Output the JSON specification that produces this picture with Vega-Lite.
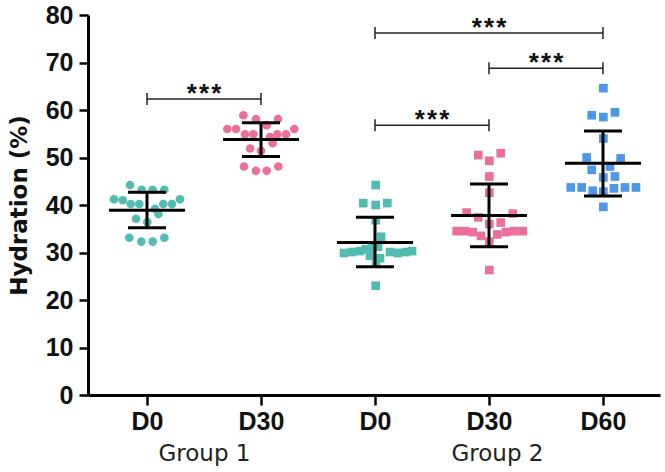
{
  "$schema": "https://vega.github.io/schema/vega-lite/v6.json",
  "width": 572,
  "height": 380,
  "autosize": "none",
  "padding": {"left": 88, "top": 15, "right": 5, "bottom": 77},
  "background": "white",
  "config": {"view": {"stroke": null}, "axis": {"grid": false}},
  "datasets": {
    "points": [
      {"series": "G1D0", "pos": 0.851, "value": 44.2},
      {"series": "G1D0", "pos": 0.953, "value": 43.2},
      {"series": "G1D0", "pos": 1.05, "value": 43.2},
      {"series": "G1D0", "pos": 1.152, "value": 43.2},
      {"series": "G1D0", "pos": 0.711, "value": 41.2},
      {"series": "G1D0", "pos": 0.787, "value": 41.0},
      {"series": "G1D0", "pos": 1.289, "value": 41.2},
      {"series": "G1D0", "pos": 0.857, "value": 40.2},
      {"series": "G1D0", "pos": 0.932, "value": 40.2},
      {"series": "G1D0", "pos": 1.143, "value": 40.2},
      {"series": "G1D0", "pos": 1.219, "value": 40.2},
      {"series": "G1D0", "pos": 1.07, "value": 39.2},
      {"series": "G1D0", "pos": 1.10, "value": 38.1},
      {"series": "G1D0", "pos": 0.904, "value": 37.1},
      {"series": "G1D0", "pos": 1.003, "value": 36.4},
      {"series": "G1D0", "pos": 0.845, "value": 33.1},
      {"series": "G1D0", "pos": 0.95, "value": 32.3},
      {"series": "G1D0", "pos": 1.05, "value": 32.3},
      {"series": "G1D0", "pos": 1.152, "value": 33.1},
      {"series": "G1D30", "pos": 1.845, "value": 58.9},
      {"series": "G1D30", "pos": 1.956, "value": 58.1},
      {"series": "G1D30", "pos": 2.149, "value": 58.1},
      {"series": "G1D30", "pos": 2.05, "value": 56.8},
      {"series": "G1D30", "pos": 1.704, "value": 56.0},
      {"series": "G1D30", "pos": 1.781, "value": 56.0},
      {"series": "G1D30", "pos": 2.292, "value": 56.0},
      {"series": "G1D30", "pos": 1.86, "value": 54.9},
      {"series": "G1D30", "pos": 1.933, "value": 54.9},
      {"series": "G1D30", "pos": 2.143, "value": 54.9},
      {"series": "G1D30", "pos": 2.219, "value": 54.9},
      {"series": "G1D30", "pos": 2.079, "value": 54.3},
      {"series": "G1D30", "pos": 2.102, "value": 53.0},
      {"series": "G1D30", "pos": 1.904, "value": 51.9},
      {"series": "G1D30", "pos": 2.0, "value": 51.4},
      {"series": "G1D30", "pos": 1.851, "value": 48.1},
      {"series": "G1D30", "pos": 1.956, "value": 47.2},
      {"series": "G1D30", "pos": 2.05, "value": 47.2},
      {"series": "G1D30", "pos": 2.152, "value": 48.1},
      {"series": "G2D0", "pos": 3.006, "value": 44.2},
      {"series": "G2D0", "pos": 2.897, "value": 40.4},
      {"series": "G2D0", "pos": 3.006, "value": 40.0},
      {"series": "G2D0", "pos": 3.108, "value": 40.4},
      {"series": "G2D0", "pos": 3.006, "value": 36.8},
      {"series": "G2D0", "pos": 3.053, "value": 33.3},
      {"series": "G2D0", "pos": 2.728, "value": 29.9},
      {"series": "G2D0", "pos": 2.798, "value": 30.1},
      {"series": "G2D0", "pos": 2.868, "value": 30.3},
      {"series": "G2D0", "pos": 2.921, "value": 30.7},
      {"series": "G2D0", "pos": 2.974, "value": 30.9},
      {"series": "G2D0", "pos": 3.026, "value": 31.2},
      {"series": "G2D0", "pos": 2.956, "value": 29.3},
      {"series": "G2D0", "pos": 3.044, "value": 28.8},
      {"series": "G2D0", "pos": 3.132, "value": 30.1},
      {"series": "G2D0", "pos": 3.202, "value": 29.9},
      {"series": "G2D0", "pos": 3.272, "value": 30.1},
      {"series": "G2D0", "pos": 3.325, "value": 30.3},
      {"series": "G2D0", "pos": 3.009, "value": 28.0},
      {"series": "G2D0", "pos": 3.006, "value": 23.0},
      {"series": "G2D30", "pos": 3.906, "value": 50.5},
      {"series": "G2D30", "pos": 4.003, "value": 49.3},
      {"series": "G2D30", "pos": 4.103, "value": 50.9},
      {"series": "G2D30", "pos": 4.003, "value": 46.0},
      {"series": "G2D30", "pos": 4.003, "value": 42.6},
      {"series": "G2D30", "pos": 3.804, "value": 38.4},
      {"series": "G2D30", "pos": 3.906, "value": 37.4},
      {"series": "G2D30", "pos": 4.208, "value": 38.2},
      {"series": "G2D30", "pos": 4.003, "value": 36.0},
      {"series": "G2D30", "pos": 4.103, "value": 36.3},
      {"series": "G2D30", "pos": 3.717, "value": 34.5},
      {"series": "G2D30", "pos": 3.789, "value": 34.5},
      {"series": "G2D30", "pos": 3.857, "value": 34.3},
      {"series": "G2D30", "pos": 3.93, "value": 33.5},
      {"series": "G2D30", "pos": 4.003, "value": 32.3},
      {"series": "G2D30", "pos": 4.073, "value": 33.8},
      {"series": "G2D30", "pos": 4.149, "value": 34.3},
      {"series": "G2D30", "pos": 4.222, "value": 34.5},
      {"series": "G2D30", "pos": 4.296, "value": 34.5},
      {"series": "G2D30", "pos": 4.003, "value": 26.3},
      {"series": "G2D60", "pos": 5.003, "value": 64.6},
      {"series": "G2D60", "pos": 4.901, "value": 58.9},
      {"series": "G2D60", "pos": 5.003, "value": 58.5},
      {"series": "G2D60", "pos": 5.105, "value": 59.5},
      {"series": "G2D60", "pos": 5.003, "value": 54.0},
      {"series": "G2D60", "pos": 4.857, "value": 50.0},
      {"series": "G2D60", "pos": 5.155, "value": 49.8},
      {"series": "G2D60", "pos": 4.901, "value": 47.4},
      {"series": "G2D60", "pos": 5.061, "value": 48.1},
      {"series": "G2D60", "pos": 5.003, "value": 45.8},
      {"series": "G2D60", "pos": 5.105, "value": 46.0},
      {"series": "G2D60", "pos": 4.717, "value": 43.7},
      {"series": "G2D60", "pos": 4.813, "value": 43.7},
      {"series": "G2D60", "pos": 4.91, "value": 43.0},
      {"series": "G2D60", "pos": 5.003, "value": 42.8},
      {"series": "G2D60", "pos": 5.096, "value": 43.5},
      {"series": "G2D60", "pos": 5.193, "value": 43.7},
      {"series": "G2D60", "pos": 5.289, "value": 43.7},
      {"series": "G2D60", "pos": 5.003, "value": 39.6}
    ],
    "summary": [
      {"series": "G1D0", "pos": 1, "mean": 38.9, "lo": 35.2, "hi": 42.7},
      {"series": "G1D30", "pos": 2, "mean": 53.8, "lo": 50.2, "hi": 57.3},
      {"series": "G2D0", "pos": 3, "mean": 32.1, "lo": 27.0, "hi": 37.4},
      {"series": "G2D30", "pos": 4, "mean": 37.8, "lo": 31.2, "hi": 44.4},
      {"series": "G2D60", "pos": 5, "mean": 48.8, "lo": 41.9, "hi": 55.6}
    ],
    "brackets": [
      {"x1": 1, "x2": 2, "y": 62.3, "label": "*\u200a*\u200a*"},
      {"x1": 3, "x2": 5, "y": 76.2, "label": "*\u200a*\u200a*"},
      {"x1": 4, "x2": 5, "y": 68.8, "label": "*\u200a*\u200a*"},
      {"x1": 3, "x2": 4, "y": 56.8, "label": "*\u200a*\u200a*"}
    ]
  },
  "layer": [
    {
      "layer": [
        {
          "data": {"name": "points"},
          "mark": {"type": "point", "filled": true, "opacity": 1, "size": 75},
          "encoding": {
            "x": {
              "field": "pos", "type": "quantitative",
              "scale": {"domain": [0.4825, 5.5], "nice": false, "zero": false},
              "axis": {
                "title": null, "values": [1, 2, 3, 4, 5],
                "labelExpr": "datum.value == 1 || datum.value == 3 ? 'D0' : (datum.value == 2 || datum.value == 4 ? 'D30' : 'D60')",
                "domainColor": "#000", "domainWidth": 3, "tickColor": "#000", "tickWidth": 2.5, "tickSize": 10,
                "labelFont": "Liberation Sans", "labelFontWeight": "bold", "labelFontSize": 25, "labelColor": "#111",
                "labelPadding": 4, "labelFlush": false, "labelOverlap": false
              }
            },
            "y": {
              "field": "value", "type": "quantitative",
              "scale": {"domain": [0, 80], "nice": false, "zero": true},
              "axis": {
                "title": "Hydration (%)", "values": [0, 10, 20, 30, 40, 50, 60, 70, 80],
                "domainColor": "#000", "domainWidth": 3, "tickColor": "#000", "tickWidth": 2.5, "tickSize": 9,
                "labelFont": "Liberation Sans", "labelFontWeight": "bold", "labelFontSize": 25, "labelColor": "#111",
                "labelPadding": 6, "labelFlush": false, "labelOverlap": false,
                "titleFont": "DejaVu Sans", "titleFontWeight": "bold", "titleFontSize": 23, "titleColor": "#111",
                "titlePadding": 14
              }
            },
            "color": {
              "field": "series", "type": "nominal", "legend": null,
              "scale": {"domain": ["G1D0", "G1D30", "G2D0", "G2D30", "G2D60"], "range": ["#52bcb0", "#ea6f9a", "#52bcb0", "#ea6f9a", "#4d97e6"]}
            },
            "shape": {
              "field": "series", "type": "nominal", "legend": null,
              "scale": {"domain": ["G1D0", "G1D30", "G2D0", "G2D30", "G2D60"], "range": ["circle", "circle", "square", "square", "square"]}
            }
          }
        },
        {
          "mark": {"type": "rule", "strokeDash": [8, 5], "strokeWidth": 3, "color": "#3d1a1a"},
          "encoding": {"x": {"datum": 2.5, "type": "quantitative"}}
        },
        {
          "data": {"name": "summary"},
          "mark": {"type": "rule", "strokeWidth": 3, "color": "#000"},
          "encoding": {
            "x": {"field": "pos", "type": "quantitative"},
            "y": {"field": "lo", "type": "quantitative"},
            "y2": {"field": "hi"}
          }
        },
        {
          "data": {"name": "summary"},
          "mark": {"type": "tick", "orient": "horizontal", "size": 76, "thickness": 3, "color": "#000", "opacity": 1},
          "encoding": {
            "x": {"field": "pos", "type": "quantitative"},
            "y": {"field": "mean", "type": "quantitative"}
          }
        },
        {
          "data": {"name": "summary"},
          "mark": {"type": "tick", "orient": "horizontal", "size": 38, "thickness": 3, "color": "#000", "opacity": 1},
          "encoding": {
            "x": {"field": "pos", "type": "quantitative"},
            "y": {"field": "lo", "type": "quantitative"}
          }
        },
        {
          "data": {"name": "summary"},
          "mark": {"type": "tick", "orient": "horizontal", "size": 38, "thickness": 3, "color": "#000", "opacity": 1},
          "encoding": {
            "x": {"field": "pos", "type": "quantitative"},
            "y": {"field": "hi", "type": "quantitative"}
          }
        },
        {
          "data": {"name": "brackets"},
          "mark": {"type": "rule", "strokeWidth": 1.5, "color": "#222"},
          "encoding": {
            "x": {"field": "x1", "type": "quantitative"},
            "x2": {"field": "x2"},
            "y": {"field": "y", "type": "quantitative"}
          }
        },
        {
          "data": {"name": "brackets"},
          "mark": {"type": "tick", "orient": "vertical", "size": 12, "thickness": 1.5, "color": "#222", "opacity": 1},
          "encoding": {
            "x": {"field": "x1", "type": "quantitative"},
            "y": {"field": "y", "type": "quantitative"}
          }
        },
        {
          "data": {"name": "brackets"},
          "mark": {"type": "tick", "orient": "vertical", "size": 12, "thickness": 1.5, "color": "#222", "opacity": 1},
          "encoding": {
            "x": {"field": "x2", "type": "quantitative"},
            "y": {"field": "y", "type": "quantitative"}
          }
        },
        {
          "data": {"name": "brackets"},
          "transform": [{"calculate": "(datum.x1 + datum.x2) / 2", "as": "mid"}],
          "mark": {"type": "text", "font": "Liberation Sans", "fontWeight": "bold", "fontSize": 26, "color": "#111", "baseline": "alphabetic", "align": "center", "dy": 3},
          "encoding": {
            "x": {"field": "mid", "type": "quantitative"},
            "y": {"field": "y", "type": "quantitative"},
            "text": {"field": "label"}
          }
        }
      ]
    },
    {
      "mark": {"type": "rule", "opacity": 0},
      "encoding": {
        "x": {
          "datum": 1.5, "type": "quantitative",
          "scale": {"domain": [0.4825, 5.5], "nice": false, "zero": false},
          "axis": {
            "title": null, "values": [1.5, 4.07], "orient": "bottom",
            "labelExpr": "datum.value < 2 ? 'Group 1' : 'Group 2'",
            "domain": false, "ticks": false, "tickSize": 0,
            "labelFont": "DejaVu Sans", "labelFontSize": 23, "labelColor": "#222",
            "labelPadding": 47, "labelFlush": false, "labelOverlap": false
          }
        }
      }
    }
  ],
  "resolve": {"scale": {"x": "independent"}, "axis": {"x": "independent"}}
}
